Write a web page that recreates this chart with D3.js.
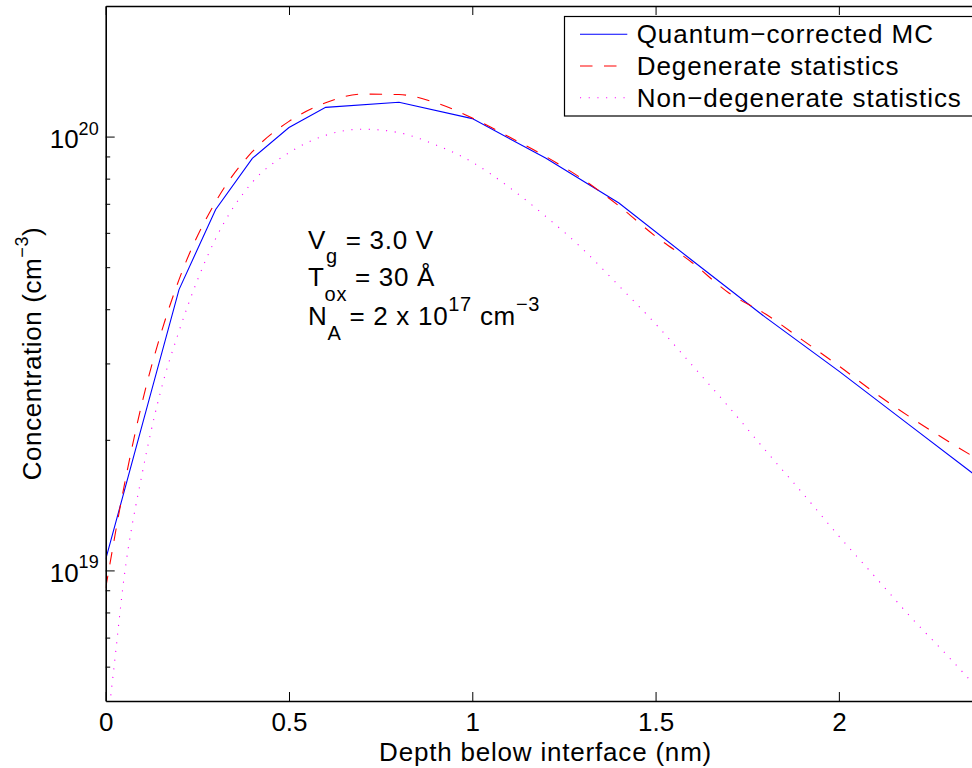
<!DOCTYPE html>
<html><head><meta charset="utf-8">
<script src="https://cdn.jsdelivr.net/npm/d3@7/dist/d3.min.js"></script>
<style>
body{margin:0;background:#fff}
svg{display:block}
text{font-family:"Liberation Sans",Arial,Helvetica,sans-serif;fill:#000}
</style>
</head><body>
<svg id="chart" width="972" height="768"></svg>
<script>
// ---- data ----
const depthMC = [0, 0.1, 0.2, 0.3, 0.4, 0.5, 0.6, 0.8, 1.0, 1.2, 1.4, 1.6, 1.8, 2.0, 2.2, 2.4];
const concMC  = [1.06e19, 2.17e19, 4.44e19, 6.79e19, 8.91e19, 1.049e20, 1.168e20, 1.20e20, 1.10e20,
                 8.93e19, 7.03e19, 5.18e19, 3.83e19, 2.88e19, 2.14e19, 1.59e19];

const depthDeg = [0, 0.05, 0.1, 0.15, 0.2, 0.3, 0.4, 0.5, 0.6, 0.7, 0.8, 0.9, 1.0, 1.1, 1.2, 1.3, 1.4,
                  1.5, 1.6, 1.7, 1.8, 1.9, 2.0, 2.1, 2.2, 2.3, 2.4];
const concDeg  = [9.1e18, 1.56e19, 2.45e19, 3.5e19, 4.68e19, 7.08e19, 9.23e19, 1.084e20, 1.197e20, 1.253e20,
                  1.25e20, 1.197e20, 1.104e20, 9.99e19, 9.0e19, 7.99e19, 6.92e19, 5.89e19, 5.12e19, 4.36e19,
                  3.90e19, 3.40e19, 2.96e19, 2.56e19, 2.24e19, 1.98e19, 1.76e19];

const depthNonDeg = [0, 0.02, 0.05, 0.1, 0.15, 0.2, 0.3, 0.4, 0.5, 0.6, 0.7, 0.8, 0.9, 1.0, 1.1, 1.2, 1.3,
                     1.4, 1.5, 1.6, 1.7, 1.8, 1.9, 2.0, 2.1, 2.2, 2.3, 2.4];
const concNonDeg  = [4.1e18, 5.71e18, 9.6e18, 1.68e19, 2.59e19, 3.56e19, 5.82e19, 7.85e19, 9.18e19, 1.007e20,
                     1.04e20, 1.021e20, 9.57e19, 8.73e19, 7.65e19, 6.55e19, 5.52e19, 4.53e19, 3.70e19, 2.97e19,
                     2.38e19, 1.89e19, 1.51e19, 1.20e19, 9.64e18, 7.74e18, 6.31e18, 5.1e18];

const seriesNames = ["Quantum\u2212corrected MC", "Degenerate statistics", "Non\u2212degenerate statistics"];
const xTicks = [0, 0.5, 1, 1.5, 2];
const xTickLabels = ["0", "0.5", "1", "1.5", "2"];
const yMajorTicks = [1e19, 1e20];
const yMajorExponents = ["19", "20"];
const yMinorTicks = [6e18, 7e18, 8e18, 9e18, 2e19, 3e19, 4e19, 5e19, 6e19, 7e19, 8e19, 9e19];
const xDomain = [0, 2.4];
const yDomain = [5e18, 2e20];

// ---- layout ----
const L = 105.7, R = 985.5, T = 6, B = 701;
const svg = d3.select("#chart");
const x = d3.scaleLinear().domain(xDomain).range([L, R]);
const y = d3.scaleLog().domain(yDomain).range([B, T]);

svg.append("rect").attr("width", 972).attr("height", 768).attr("fill", "#fff");
svg.append("defs").append("clipPath").attr("id", "clip")
  .append("rect").attr("x", L).attr("y", T).attr("width", R - L).attr("height", B - T);

// ---- series ----
const plot = svg.append("g").attr("clip-path", "url(#clip)");
function mkLine(curve) {
  return d3.line().x(d => x(d[0])).y(d => y(d[1])).curve(curve);
}
const styles = [
  {color: "#0000ff", dash: null, curve: d3.curveLinear},
  {color: "#ff0000", dash: "12.5 11.5", curve: d3.curveMonotoneX},
  {color: "#ff00ff", dash: "1.1 7.6", curve: d3.curveMonotoneX}
];
const series = [
  d3.zip(depthMC, concMC),
  d3.zip(depthDeg, concDeg),
  d3.zip(depthNonDeg, concNonDeg)
];
series.forEach((s, i) => {
  plot.append("path").datum(s)
    .attr("fill", "none")
    .attr("stroke", styles[i].color)
    .attr("stroke-width", 1.1)
    .attr("stroke-dasharray", styles[i].dash)
    .attr("d", mkLine(styles[i].curve));
});

// ---- axes ----
const axisFont = 26;
const gx = svg.append("g").attr("transform", `translate(0,${B})`)
  .call(d3.axisBottom(x).tickValues(xTicks).tickSizeInner(-9).tickSizeOuter(0)
    .tickPadding(12).tickFormat((d, i) => xTickLabels[i]));
gx.selectAll("text").attr("font-size", axisFont).attr("dy", "0.71em").attr("font-family", null);

const gxt = svg.append("g").attr("transform", `translate(0,${T})`)
  .call(d3.axisTop(x).tickValues(xTicks).tickSizeInner(-9).tickSizeOuter(0).tickFormat(""));

const gy = svg.append("g").attr("transform", `translate(${L},0)`)
  .call(d3.axisLeft(y).tickValues(yMajorTicks).tickSizeInner(-9).tickSizeOuter(0)
    .tickPadding(6).tickFormat(() => ""));
gy.selectAll(".tick").each(function(d, i) {
  const t = d3.select(this).select("text")
    .attr("font-size", axisFont).attr("font-family", null)
    .attr("x", -56).attr("dy", null).attr("y", 11).attr("text-anchor", "start");
  t.text(null);
  t.append("tspan").text("10");
  t.append("tspan").attr("font-size", 18).attr("dy", -13.5).text(yMajorExponents[i]);
});
const gym = svg.append("g").attr("transform", `translate(${L},0)`)
  .call(d3.axisLeft(y).tickValues(yMinorTicks).tickSizeInner(-4.5).tickSizeOuter(0).tickFormat(""));

const gyr = svg.append("g").attr("transform", `translate(${R},0)`)
  .call(d3.axisRight(y).tickValues(yMajorTicks).tickSizeInner(-9).tickSizeOuter(0).tickFormat(""));

[gx, gxt, gy, gym, gyr].forEach(g => {
  g.select(".domain").attr("stroke", "#000").attr("stroke-width", 1.6);
  g.selectAll(".tick line").attr("stroke", "#000").attr("stroke-width", 1);
});
gym.select(".domain").remove();

// ---- axis labels ----
svg.append("text").attr("x", (L + R) / 2).attr("y", 761).attr("text-anchor", "middle")
  .attr("font-size", axisFont).attr("letter-spacing", 0.8).text("Depth below interface (nm)");

const yl = svg.append("text").attr("text-anchor", "middle").attr("font-size", axisFont)
  .attr("letter-spacing", 0.6)
  .attr("transform", `translate(41,${(T + B) / 2}) rotate(-90)`);
yl.append("tspan").text("Concentration (cm");
yl.append("tspan").attr("font-size", 18).attr("dy", -13).text("\u22123");
yl.append("tspan").attr("dy", 13).text(")");

// ---- annotation ----
function richText(xp, yp, parts) {
  const t = svg.append("text").attr("x", xp).attr("y", yp).attr("font-size", 26)
    .attr("letter-spacing", 0.7);
  let shift = 0;
  parts.forEach(p => {
    const target = p.sub ? 14.5 : p.sup ? -14 : 0;
    const ts = t.append("tspan").attr("dy", target - shift).text(p.t);
    if (p.sub || p.sup) ts.attr("font-size", 20);
    shift = target;
  });
  return t;
}
richText(308, 248.5, [{t: "V"}, {t: "g", sub: true}, {t: " = 3.0 V"}]);
richText(308, 286, [{t: "T"}, {t: "ox", sub: true}, {t: " = 30 \u00C5"}]);
richText(308, 325, [{t: "N"}, {t: "A", sub: true}, {t: " = 2 x 10"}, {t: "17", sup: true}, {t: " cm"}, {t: "\u22123", sup: true}]);

// ---- legend ----
const lg = svg.append("g");
lg.append("rect").attr("x", 564.5).attr("y", 16.5).attr("width", 410).attr("height", 99.5)
  .attr("fill", "#fff").attr("stroke", "#000").attr("stroke-width", 1.2);
const rowY = [34.3, 66, 97.7];
seriesNames.forEach((name, i) => {
  lg.append("line").attr("x1", 580).attr("x2", 627.3).attr("y1", rowY[i]).attr("y2", rowY[i])
    .attr("stroke", styles[i].color).attr("stroke-width", 1.1).attr("stroke-dasharray", styles[i].dash);
  lg.append("text").attr("x", 636.7).attr("y", rowY[i] + 8.8).attr("font-size", 26)
    .attr("letter-spacing", 0.95).text(name);
});
</script>
</body></html>
